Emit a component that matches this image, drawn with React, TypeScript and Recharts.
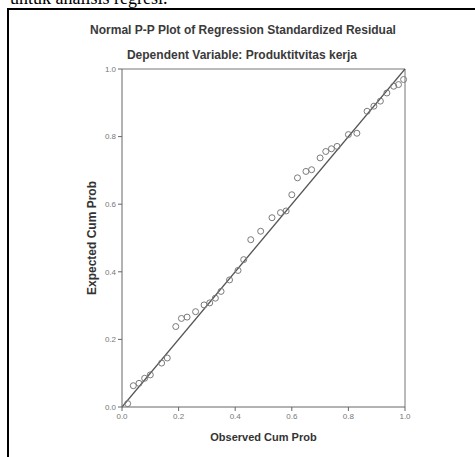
import React from "react";
import {
  ScatterChart,
  Scatter,
  XAxis,
  YAxis,
  ReferenceLine,
  Label,
} from "recharts";

// observed vs expected cumulative probability
const observed = [
  0.02, 0.04, 0.06, 0.08, 0.1, 0.14, 0.16, 0.19, 0.21, 0.23, 0.26, 0.29, 0.31,
  0.33, 0.35, 0.38, 0.41, 0.43, 0.455, 0.49, 0.53, 0.56, 0.58, 0.6, 0.62, 0.65,
  0.67, 0.7, 0.72, 0.74, 0.76, 0.8, 0.83, 0.866, 0.89, 0.913, 0.936, 0.96,
  0.977, 0.995,
];
const expected = [
  0.01, 0.063, 0.07, 0.085, 0.095, 0.13, 0.145, 0.238, 0.262, 0.266, 0.282,
  0.302, 0.308, 0.322, 0.342, 0.376, 0.404, 0.436, 0.495, 0.52, 0.56, 0.575,
  0.58, 0.628, 0.678, 0.697, 0.702, 0.737, 0.756, 0.764, 0.771, 0.806, 0.81,
  0.875, 0.89, 0.905, 0.929, 0.949, 0.954, 0.969,
];
const ticks = [0, 0.2, 0.4, 0.6, 0.8, 1.0];

const points = observed.map((x, i) => ({ x, y: expected[i] }));

const tickStyle = { fontSize: 8, fill: "#777", fontFamily: "Liberation Sans" };

const OpenCircle = (props: any) => (
  <circle cx={props.cx} cy={props.cy} r={3} fill="none" stroke="#7a7a7a" strokeWidth={1} />
);

const titleStyle: React.CSSProperties = {
  position: "absolute",
  left: 0,
  width: 486,
  textAlign: "center",
  fontFamily: "Liberation Sans",
  fontWeight: "bold",
  fontSize: 12,
  color: "#3a3a3a",
  whiteSpace: "nowrap",
};

export default function App() {
  return (
    <div
      style={{
        position: "absolute",
        left: 0,
        top: 0,
        width: 475,
        height: 457,
        overflow: "hidden",
        background: "#fff",
      }}
    >
      <div
        style={{
          position: "absolute",
          left: 10,
          top: -12,
          fontSize: 18,
          fontFamily: "Liberation Serif",
          whiteSpace: "nowrap",
        }}
      >
        untuk analisis regresi.
      </div>
      <div
        style={{
          position: "absolute",
          left: 7,
          top: 8,
          width: 600,
          height: 600,
          border: "2px solid #000",
        }}
      />
      <div style={{ ...titleStyle, top: 23 }}>
        Normal P-P Plot of Regression Standardized Residual
      </div>
      <div style={{ ...titleStyle, width: 484, top: 48 }}>
        Dependent Variable: Produktitvitas kerja
      </div>
      <div style={{ position: "absolute", left: 0, top: 0 }}>
        <ScatterChart
          width={475}
          height={457}
          margin={{ top: 69, right: 70, bottom: 30, left: 92 }}
        >
          <XAxis
            type="number"
            dataKey="x"
            domain={[0, 1]}
            ticks={ticks}
            tickFormatter={(v: number) => v.toFixed(1)}
            tick={tickStyle}
            tickSize={4}
            height={20}
            stroke="#666"
          >
            <Label
              value="Observed Cum Prob"
              position="insideBottom"
              offset={-14}
              style={{
                fontSize: 11,
                fontWeight: "bold",
                fill: "#333",
                fontFamily: "Liberation Sans",
              }}
            />
          </XAxis>
          <YAxis
            type="number"
            dataKey="y"
            domain={[0, 1]}
            ticks={ticks}
            tickFormatter={(v: number) => v.toFixed(1)}
            tick={tickStyle}
            tickSize={4}
            width={30}
            stroke="#666"
          >
            <Label
              value="Expected Cum Prob"
              angle={-90}
              position="insideLeft"
              offset={0}
              style={{
                textAnchor: "middle",
                fontSize: 12,
                fontWeight: "bold",
                fill: "#333",
                fontFamily: "Liberation Sans",
              }}
            />
          </YAxis>
          <ReferenceLine y={1} stroke="#777" />
          <ReferenceLine x={1} stroke="#777" />
          <ReferenceLine
            segment={[
              { x: 0, y: 0 },
              { x: 1, y: 1 },
            ]}
            stroke="#555"
            strokeWidth={1.2}
          />
          <Scatter data={points} shape={OpenCircle} isAnimationActive={false} />
        </ScatterChart>
      </div>
    </div>
  );
}
